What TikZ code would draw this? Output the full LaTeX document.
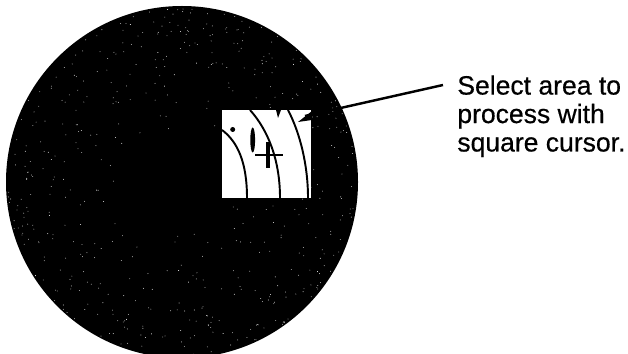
\documentclass[tikz,border=0pt]{standalone}
\usepackage{fontspec}
\setmainfont{Liberation Sans}[FakeBold=0.5]
\usetikzlibrary{arrows,calc}
\tikzset{
	trace/.style={line width=1.1pt},
	speck/.style={white},
	callout/.style={font=\fontsize{15.1}{16.2}\selectfont, align=left, inner sep=0pt},
	leader/.style={line width=1.4pt},
}

\begin{document}
\begin{tikzpicture}[x=0.02cm, y=-0.02cm]

		% === figure bounds ===
		\useasboundingbox (0,0) rectangle (628,354);
		\clip (0,0) rectangle (628,354);
		\def\cx{182}	\def\cy{182}	\def\rad{176}

		% === Disc ===
		\fill[black] (\cx,\cy) circle [radius=\rad];

		% === Speckle, denser towards the rim ===
		\pgfmathsetseed{4711}
		\foreach \i in {1,...,520} {
			\pgfmathsetmacro{\ang}{rnd*360}
			\pgfmathsetmacro{\dist}{\rad*(0.99-0.75*rnd*rnd)}
			\fill[speck] ($(\cx,\cy)+(\ang:\dist)$) circle [radius=0.42];
		}

		% === Square cursor ===
		\fill[white] (222,110) rectangle (311,198);
		\begin{scope}
			\clip (222,110) rectangle (311,198);
			\draw[trace] (222,130) .. controls (238,142) and (247,163) .. (247,198);
			\draw[trace] (250,110) .. controls (268,130) and (280,160) .. (280,198);
			\draw[trace] (288,110) .. controls (300,133) and (308,165) .. (308,198);
			\fill[black] (276,110) -- (281,110) -- (278,118) -- cycle;
		\end{scope}

		% === Marks inside cursor ===
		\fill[black] (232.7,129.5) circle [radius=2.5];
		\fill[black] (252.7,140) ellipse [x radius=2.4, y radius=12.5];
		\draw[line width=1.7pt] (255,155) -- (283,155);
		\draw[line width=2.6pt] (268,142) -- (268,168);

		% === Label and leader ===
		\node[callout, anchor=north west] (label) at (457,75) {Select area to\\process with\\square cursor.};
		\coordinate (tip) at (305,116);
		\coordinate (tail) at (443,85);
		\draw[leader] (tail) -- (tip);
		\fill[black] (312,111) -- (298,122) -- (312,120) -- cycle;

	\end{tikzpicture}
\end{document}
